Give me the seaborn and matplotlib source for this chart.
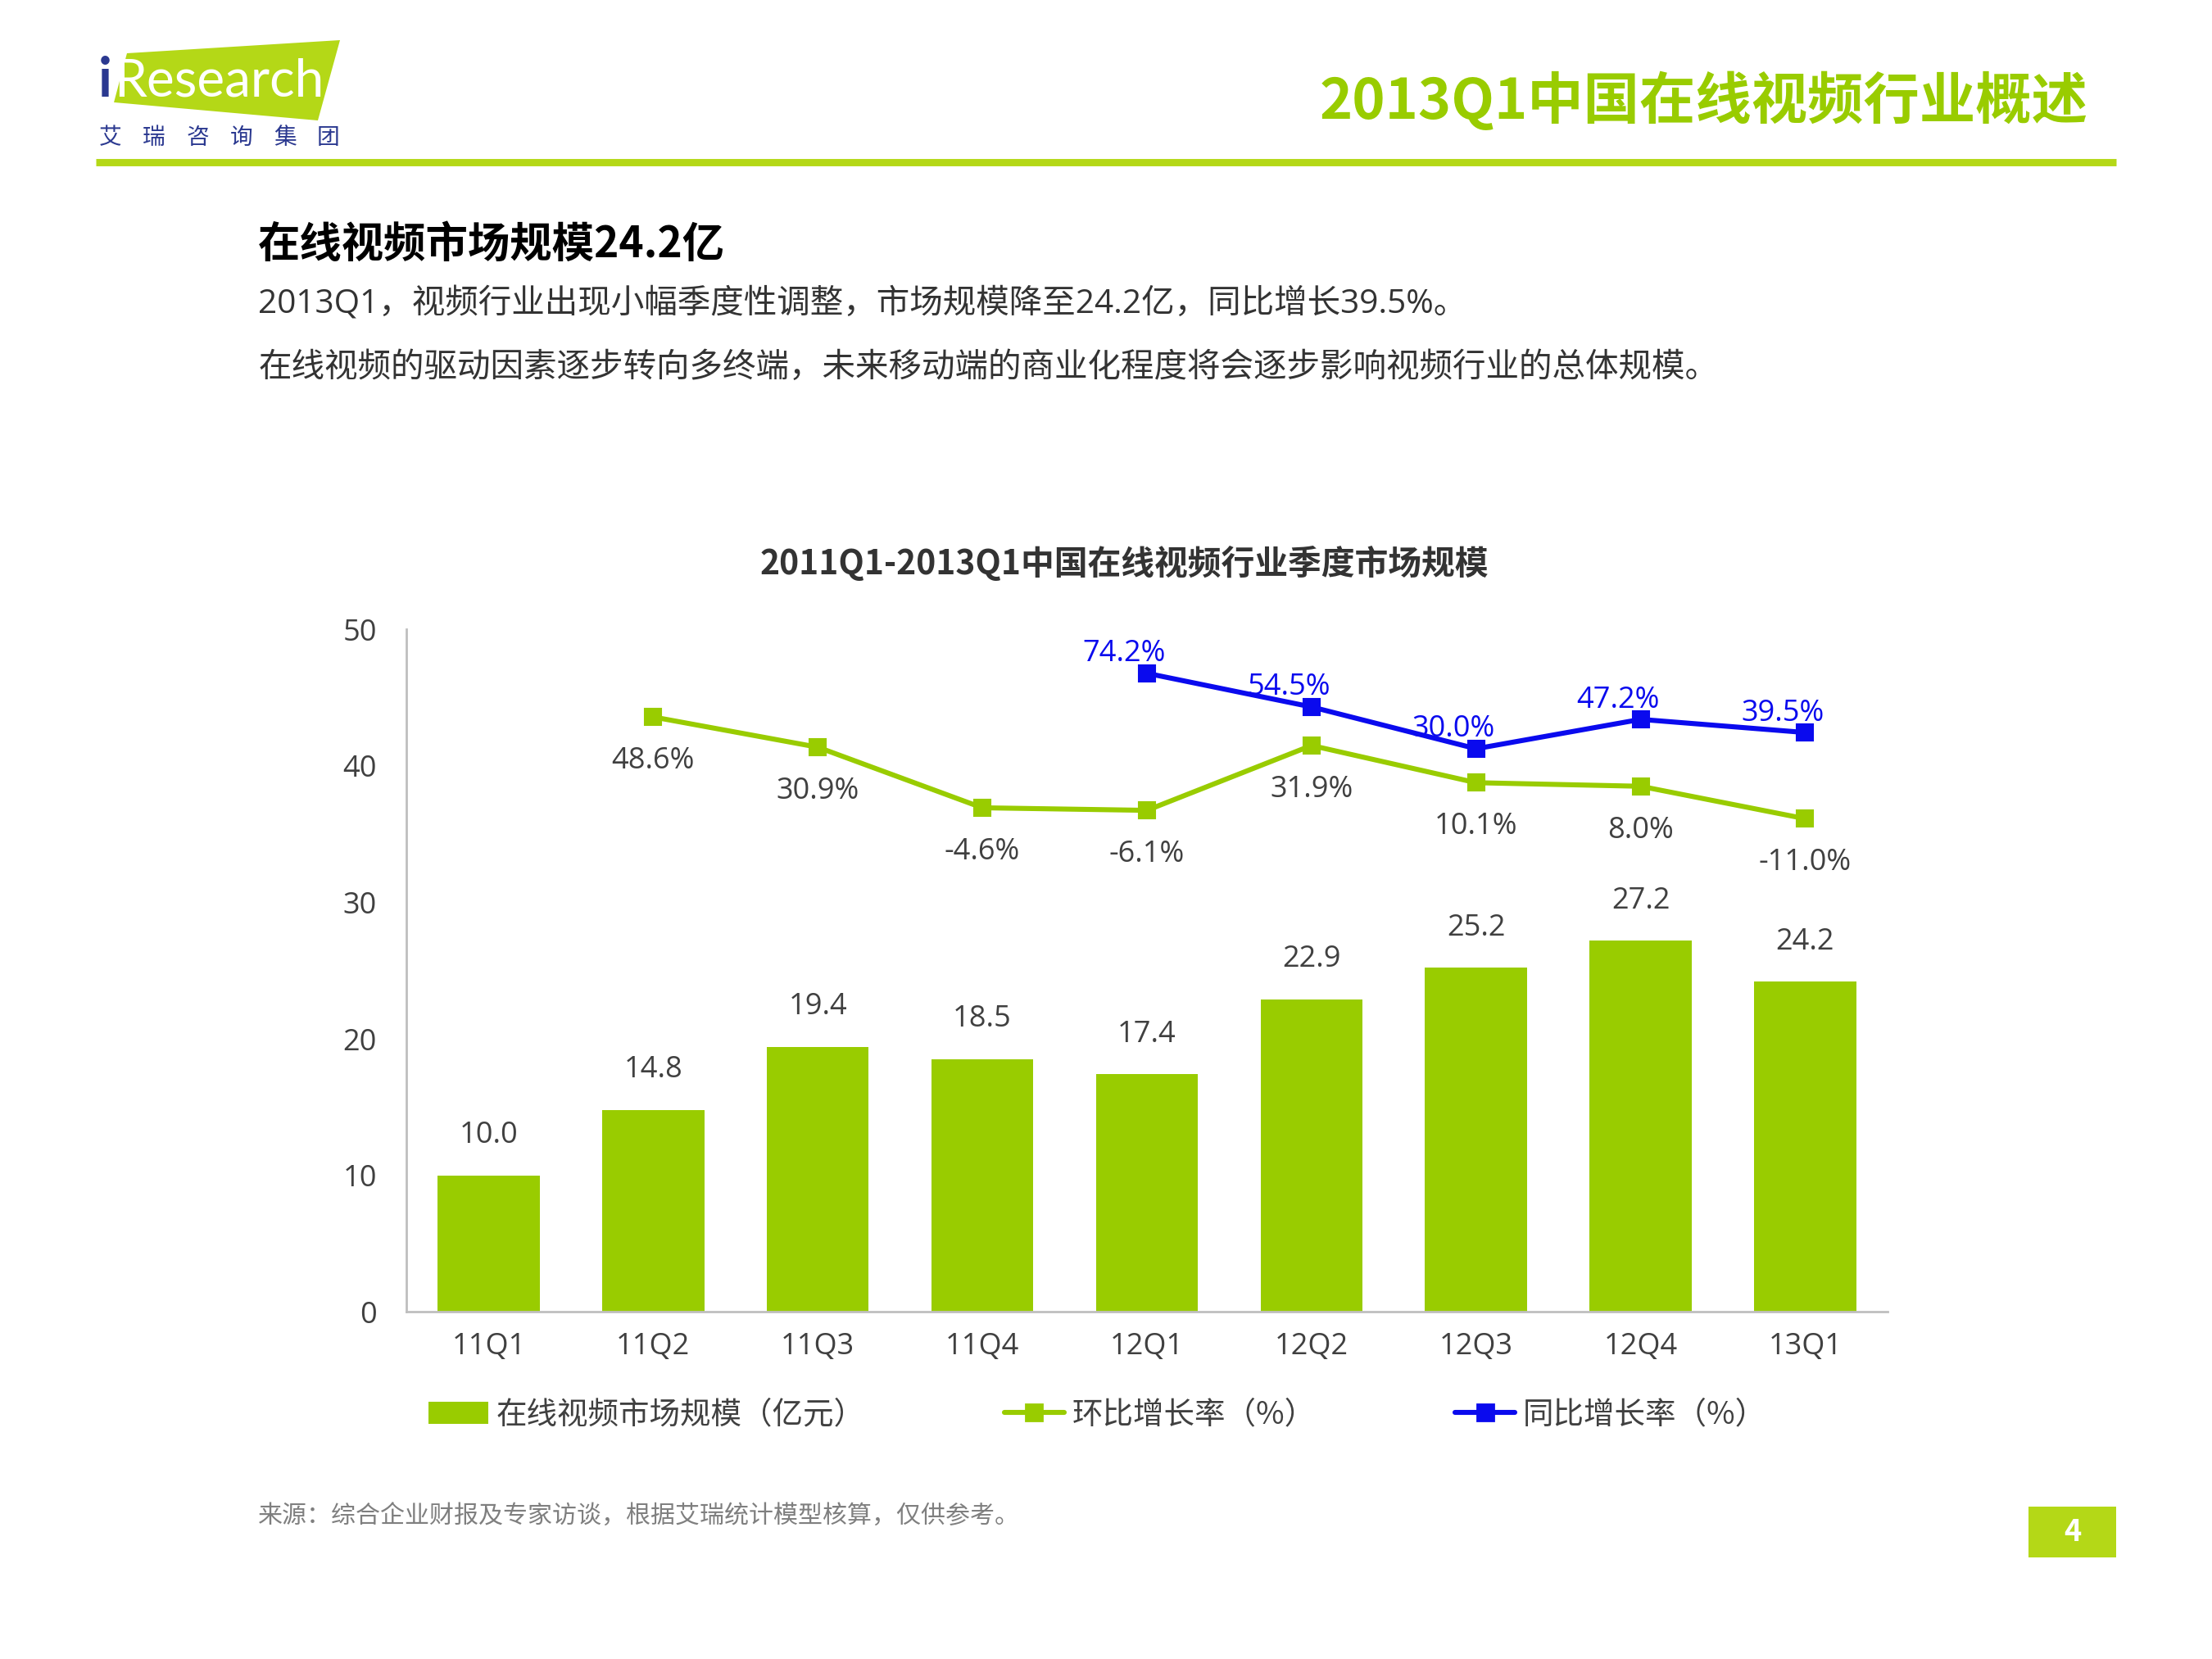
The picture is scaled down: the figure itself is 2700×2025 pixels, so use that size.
import numpy as np
import pandas as pd
import matplotlib
matplotlib.use("Agg")
import matplotlib.pyplot as plt
import seaborn as sns
from matplotlib.patches import Polygon, Rectangle, Patch
from matplotlib.lines import Line2D

# ---------------- data ----------------
quarters = ["11Q1", "11Q2", "11Q3", "11Q4", "12Q1", "12Q2", "12Q3", "12Q4", "13Q1"]
market_size = [10.0, 14.8, 19.4, 18.5, 17.4, 22.9, 25.2, 27.2, 24.2]
qoq_growth = [np.nan, 48.6, 30.9, -4.6, -6.1, 31.9, 10.1, 8.0, -11.0]
yoy_growth = [np.nan, np.nan, np.nan, np.nan, 74.2, 54.5, 30.0, 47.2, 39.5]
y_ticks = [0, 10, 20, 30, 40, 50]
legend_labels = ["在线视频市场规模（亿元）", "环比增长率（%）", "同比增长率（%）"]

GREEN_BAR = "#99cc00"
GREEN_LINE = "#99cc00"
LOGO_GREEN = "#b4d817"
BLUE = "#0a0aee"
DARK = "#404040"
NAVY = "#2b3990"

sns.set_theme(style="white")
plt.rcParams["font.family"] = ["Open Sans", "Noto Sans CJK SC", "DejaVu Sans"]
plt.rcParams["axes.unicode_minus"] = False
CJK = ["Noto Sans CJK SC", "DejaVu Sans"]

fig = plt.figure(figsize=(13.5, 10.125), dpi=200)
fig.patch.set_facecolor("white")

# ---------------- header ----------------
logo = Polygon([[0.0574, 0.9679], [0.1537, 0.9758], [0.1437, 0.9274], [0.0515, 0.9383]],
               closed=True, transform=fig.transFigure, facecolor=LOGO_GREEN, edgecolor="none")
fig.patches.append(logo)
fig.text(0.0445, 0.951, "i", color=NAVY, fontsize=24, fontweight="bold",
         family=["Lato", "DejaVu Sans"], va="center", ha="left")
fig.text(0.0515, 0.951, "Research", color="white", fontsize=23,
         family=["Lato", "DejaVu Sans"], va="center", ha="left")
for i, ch in enumerate("艾瑞咨询集团"):
    fig.text(0.0500 + i * 0.0197, 0.917, ch, color=NAVY, fontsize=10, va="center",
             ha="center", family=CJK)

fig.add_artist(Line2D([0.0434, 0.9566], [0.9022, 0.9022], transform=fig.transFigure,
                      color=LOGO_GREEN, linewidth=3.2, solid_capstyle="butt"))
fig.text(0.9439, 0.9388, "2013Q1中国在线视频行业概述", color=GREEN_BAR, fontsize=24.6,
         fontweight="bold", ha="right", va="center", family=CJK)

fig.text(0.1167, 0.8525, "在线视频市场规模24.2亿", color="black", fontsize=18.5,
         fontweight="bold", ha="left", va="center", family=CJK)
fig.text(0.1167, 0.8163, "2013Q1，视频行业出现小幅季度性调整，市场规模降至24.2亿，同比增长39.5%。",
         color="#333333", fontsize=14.6, ha="left", va="center")
fig.text(0.1167, 0.7781, "在线视频的驱动因素逐步转向多终端，未来移动端的商业化程度将会逐步影响视频行业的总体规模。",
         color="#333333", fontsize=14.6, ha="left", va="center")

fig.text(0.5083, 0.6599, "2011Q1-2013Q1中国在线视频行业季度市场规模", color="#333333",
         fontsize=14.7, fontweight="bold", ha="center", va="center", family=CJK)

# ---------------- chart ----------------
ax = fig.add_axes([0.1837, 0.2092, 0.8533 - 0.1837, 0.6207 - 0.2092])
df = pd.DataFrame({"quarter": quarters, "size": market_size,
                   "qoq": qoq_growth, "yoy": yoy_growth})
df["pos"] = np.arange(len(quarters))

sns.barplot(data=df, x="quarter", y="size", color=GREEN_BAR, saturation=1,
            width=0.62, ax=ax, edgecolor="none")
ax.set_ylim(0, 50)
ax.set_xlim(-0.5, len(quarters) - 0.5)
ax.set_yticks(y_ticks)
ax.set_yticklabels([str(t) for t in y_ticks], color=DARK, fontsize=13)
ax.set_xticks(df["pos"])
ax.set_xticklabels(quarters, color=DARK, fontsize=13)
ax.set_xlabel("")
ax.set_ylabel("")
ax.tick_params(axis="y", length=0, pad=13)
ax.tick_params(axis="x", length=0, pad=9)
for s in ["top", "right"]:
    ax.spines[s].set_visible(False)
for s in ["left", "bottom"]:
    ax.spines[s].set_color("#bfbfbf")
    ax.spines[s].set_linewidth(1.0)

for p, v in zip(df["pos"], df["size"]):
    ax.annotate(f"{v:.1f}", (p, v), xytext=(0, 11), textcoords="offset points",
                ha="center", va="bottom", color=DARK, fontsize=13)

ax2 = ax.twinx()
sns.lineplot(data=df.dropna(subset=["qoq"]), x="pos", y="qoq", ax=ax2, color=GREEN_LINE,
             linewidth=2.2, marker="s", markersize=7, markeredgecolor=GREEN_LINE)
sns.lineplot(data=df.dropna(subset=["yoy"]), x="pos", y="yoy", ax=ax2, color=BLUE,
             linewidth=2.2, marker="s", markersize=7, markeredgecolor=BLUE)
ax2.set_ylim(-300, 100)
ax2.set_xlim(-0.5, len(quarters) - 0.5)
ax2.set_yticks([])
ax2.set_ylabel("")
ax2.set_xlabel("")
for s in ax2.spines.values():
    s.set_visible(False)

for p, v in zip(df["pos"], df["qoq"]):
    if not np.isnan(v):
        ax2.annotate(f"{v:.1f}%", (p, v), xytext=(0, -13), textcoords="offset points",
                     ha="center", va="top", color=DARK, fontsize=13)
for p, v in zip(df["pos"], df["yoy"]):
    if not np.isnan(v):
        ax2.annotate(f"{v:.1f}%", (p, v), xytext=(-10, 2), textcoords="offset points",
                     ha="center", va="bottom", color=BLUE, fontsize=13)

handles = [
    Patch(facecolor=GREEN_BAR, edgecolor="none"),
    Line2D([0], [0], color=GREEN_LINE, linewidth=2.2, marker="s", markersize=7),
    Line2D([0], [0], color=BLUE, linewidth=2.2, marker="s", markersize=7),
]
fig.legend(handles, legend_labels, loc="center", bbox_to_anchor=(0.496, 0.1471), ncol=3,
           frameon=False, handlelength=1.95, handletextpad=0.25,
           columnspacing=4.55, labelcolor=DARK, prop={"family": CJK, "size": 13.5})

# ---------------- footer ----------------
fig.text(0.1167, 0.0859, "来源：综合企业财报及专家访谈，根据艾瑞统计模型核算，仅供参考。",
         color="#7f7f7f", fontsize=10.8, ha="left", va="center", family=CJK)
fig.patches.append(Rectangle((0.9171, 0.0612), 0.0395, 0.0306, transform=fig.transFigure,
                             facecolor=LOGO_GREEN, edgecolor="none"))
fig.text(0.9369, 0.0765, "4", color="white", fontsize=13, fontweight="bold",
         ha="center", va="center", family=CJK)

fig.savefig("out.png", dpi=200, facecolor="white")
